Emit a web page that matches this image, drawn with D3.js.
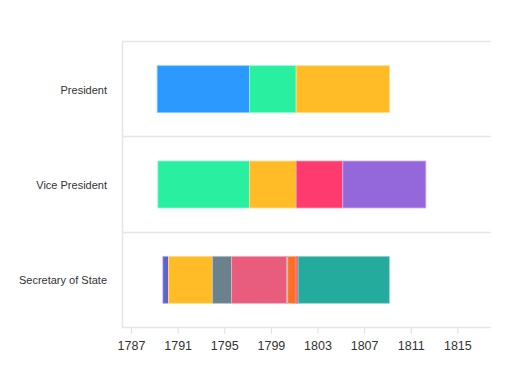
<!DOCTYPE html>
<html>
<head>
<meta charset="utf-8">
<script src="https://cdn.jsdelivr.net/npm/d3@7"></script>
<style>
  body { margin: 0; background: #fff; }
  text { font-family: "Liberation Sans", Arial, sans-serif; fill: #333; }
</style>
</head>
<body>
<svg id="chart"></svg>
<script>
// rows of the timeline
var roles = ['President', 'Vice President', 'Secretary of State'];

// one entry per term: role, name, start, end
var termRole = [0, 0, 0, 1, 1, 1, 1, 2, 2, 2, 2, 2, 2, 2, 2];
var termName = ['George Washington', 'John Adams', 'Thomas Jefferson',
  'John Adams', 'Thomas Jefferson', 'Aaron Burr', 'George Clinton',
  'John Jay', 'Thomas Jefferson', 'Edmund Randolph', 'Timothy Pickering',
  'Charles Lee', 'John Marshall', 'Levi Lincoln', 'James Madison'];
var termStart = ['1789-03-30', '1797-03-04', '1801-03-04',
  '1789-04-21', '1797-03-04', '1801-03-04', '1805-03-04',
  '1789-09-26', '1790-03-22', '1794-01-02', '1795-08-20',
  '1800-05-13', '1800-06-13', '1801-03-05', '1801-05-02'];
var termEnd = ['1797-03-04', '1801-03-04', '1809-03-04',
  '1797-03-04', '1801-03-04', '1805-03-04', '1812-04-20',
  '1790-03-22', '1793-12-31', '1795-08-20', '1800-05-12',
  '1800-06-05', '1801-03-04', '1801-05-01', '1809-03-03'];
var termColor = ['#2b99ff', '#29f0a1', '#ffbc27',
  '#29f0a1', '#ffbc27', '#ff3a6e', '#9468db',
  '#5f62cb', '#ffbc27', '#6b818c', '#e85c7e',
  '#6b818c', '#ff6e26', '#e8234a', '#25ab9d'];

// axis ticks
var tickYears = [1787, 1791, 1795, 1799, 1803, 1807, 1811, 1815];

// layout
var W = 507, H = 368;
var margin = {top: 41, right: 16, bottom: 41, left: 122};
var width = W - margin.left - margin.right;
var height = H - margin.top - margin.bottom;

var parse = d3.utcParse('%Y-%m-%d');
var terms = termName.map(function(n, i) {
  return {role: roles[termRole[i]], name: n, start: parse(termStart[i]), end: parse(termEnd[i]), color: termColor[i]};
});

// scales
var x = d3.scaleUtc()
  .domain([parse('1786-03-25'), parse('1817-11-20')])
  .range([0, width]);
var y = d3.scaleBand()
  .domain(roles)
  .range([0, height]);

var svg = d3.select('#chart')
  .attr('width', W)
  .attr('height', H)
  .append('g')
    .attr('transform', 'translate(' + margin.left + ',' + margin.top + ')');

// row separators and frame
svg.selectAll('line.row')
  .data([0, height / 3, 2 * height / 3, height])
  .enter()
  .append('line')
    .attr('x1', 0)
    .attr('x2', width)
    .attr('y1', function(d) { return Math.round(d) + 0.5; })
    .attr('y2', function(d) { return Math.round(d) + 0.5; })
    .style('stroke', '#e6e6e6')
    .style('stroke-width', 1.5);
svg.append('line')
  .attr('x1', 0.5).attr('x2', 0.5)
  .attr('y1', 0).attr('y2', height)
  .style('stroke', '#e6e6e6')
  .style('stroke-width', 1.5);

// bars
var barH = 47;
svg.selectAll('rect.term')
  .data(terms)
  .enter()
  .append('rect')
    .classed('term', true)
    .attr('x', function(d) { return x(d.start); })
    .attr('width', function(d) { return Math.max(0.8, x(d.end) - x(d.start)); })
    .attr('y', function(d) { return y(d.role) + (y.bandwidth() - barH) / 2 + 0.5; })
    .attr('height', barH)
    .style('fill', function(d) { return d.color; })
    .style('stroke', function(d) { return d3.interpolateRgb(d.color, '#fff')(0.5); })
    .style('stroke-width', 0.8);

// x axis
var axis = svg.append('g')
  .attr('transform', 'translate(0,' + height + ')')
  .call(
    d3.axisBottom(x)
      .tickValues(tickYears.map(function(yr) { return parse(yr + '-01-01'); }))
      .tickFormat(d3.utcFormat('%Y'))
      .tickSize(7)
      .tickPadding(7)
  );
axis.select('.domain').remove();
axis.selectAll('line').style('stroke', '#e0e0e0');
axis.selectAll('text').style('font-size', '12.5px').style('fill', '#333');

// row labels
svg.selectAll('text.role')
  .data(roles)
  .enter()
  .append('text')
    .classed('role', true)
    .attr('x', -15)
    .attr('y', function(d) { return y(d) + y.bandwidth() / 2 + 1; })
    .attr('dy', '0.35em')
    .attr('text-anchor', 'end')
    .style('font-size', '11px')
    .text(function(d) { return d; });
</script>
</body>
</html>
